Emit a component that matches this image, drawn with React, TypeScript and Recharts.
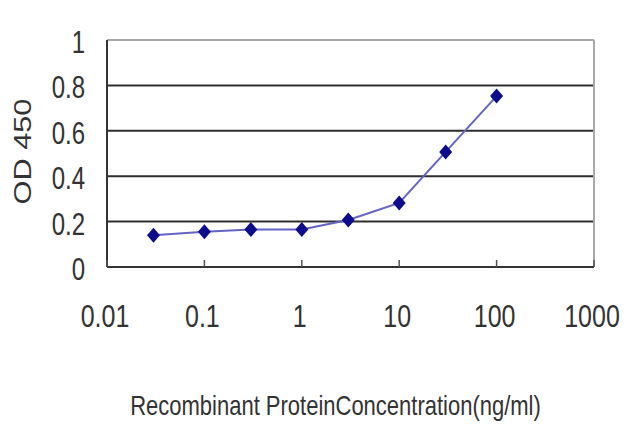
import { CartesianGrid, Label, Line, LineChart, ReferenceLine, XAxis, YAxis } from "recharts";

// ELISA standard curve: concentration (ng/ml) vs OD 450
const concentrations = [0.03, 0.1, 0.3, 1, 3, 10, 30, 100];
const odValues = [0.14, 0.155, 0.165, 0.165, 0.207, 0.282, 0.507, 0.753];
const xTicks = [0.01, 0.1, 1, 10, 100, 1000];
const yTicks = [0, 0.2, 0.4, 0.6, 0.8, 1];
const gridValues = [0.2, 0.4, 0.6, 0.8];

const data = concentrations.map((c, i) => ({ conc: c, od: odValues[i] }));

const FONT = '"Liberation Sans", Arial, sans-serif';
const TEXT = "#333";
// the source picture is stretched vertically, text included
const STRETCH = 1.28;

function XTick({ x, y, payload }: any) {
  return (
    <g>
      <line x1={x} y1={y - 7} x2={x} y2={y} stroke="#555" strokeWidth={1.5} />
      <text
        transform={`translate(${x - 2}, ${y + 48}) scale(1, ${STRETCH})`}
        textAnchor="middle"
        dy="0.36em"
        fontSize={25}
        fontFamily={FONT}
        fill={TEXT}
      >
        {payload.value}
      </text>
    </g>
  );
}

function YTick({ x, y, payload }: any) {
  return (
    <text
      transform={`translate(${x - 22}, ${y + 2}) scale(1, ${STRETCH})`}
      textAnchor="end"
      dy="0.36em"
      fontSize={24}
      fontFamily={FONT}
      fill={TEXT}
    >
      {payload.value}
    </text>
  );
}

function Diamond({ cx, cy }: any) {
  if (cx == null || cy == null) return null;
  return (
    <polygon
      points={`${cx},${cy - 7.5} ${cx + 6.5},${cy} ${cx},${cy + 7.5} ${cx - 6.5},${cy}`}
      fill="#0c0c8c"
    />
  );
}

export default function App() {
  return (
    <div style={{ position: "absolute", left: 0, top: 0, width: 640, height: 427, background: "#fff" }}>
      <LineChart width={640} height={427} data={data} margin={{ top: 40, right: 46, bottom: 0, left: 0 }}>
        <CartesianGrid
          vertical={false}
          horizontalValues={gridValues}
          stroke="#2e2e2e"
          strokeWidth={2}
        />
        <ReferenceLine y={1} stroke="#a8a8a8" strokeWidth={2} ifOverflow="extendDomain" />
        <ReferenceLine x={1000} stroke="#a8a8a8" strokeWidth={2} />
        <XAxis
          dataKey="conc"
          type="number"
          scale="log"
          domain={[0.01, 1000]}
          ticks={xTicks}
          allowDataOverflow
          height={160}
          tickSize={0}
          tickMargin={0}
          tickLine={false}
          axisLine={{ stroke: "#333", strokeWidth: 2 }}
          tick={<XTick />}
        >
          <Label
            content={({ viewBox }: any) => (
              <text
                transform={`translate(${viewBox.x + viewBox.width / 2 - 15}, ${viewBox.y + 138}) scale(1, ${STRETCH})`}
                textAnchor="middle"
                dy="0.36em"
                fontSize={22}
                fontFamily={FONT}
                fill={TEXT}
              >
                Recombinant ProteinConcentration(ng/ml)
              </text>
            )}
          />
        </XAxis>
        <YAxis
          type="number"
          domain={[0, 1]}
          ticks={yTicks}
          width={107}
          tickSize={0}
          tickMargin={0}
          tickLine={false}
          axisLine={{ stroke: "#333", strokeWidth: 2 }}
          tick={<YTick />}
        >
          <Label
            content={({ viewBox }: any) => (
              <text
                transform={`translate(22, ${viewBox.y + viewBox.height / 2 - 2}) scale(1, ${STRETCH}) rotate(-90)`}
                textAnchor="middle"
                dy="0.36em"
                fontSize={24}
                fontFamily={FONT}
                fill={TEXT}
              >
                OD 450
              </text>
            )}
          />
        </YAxis>
        <Line
          dataKey="od"
          stroke="#6464c4"
          strokeWidth={2}
          dot={<Diamond />}
          activeDot={false}
          isAnimationActive={false}
        />
      </LineChart>
    </div>
  );
}
